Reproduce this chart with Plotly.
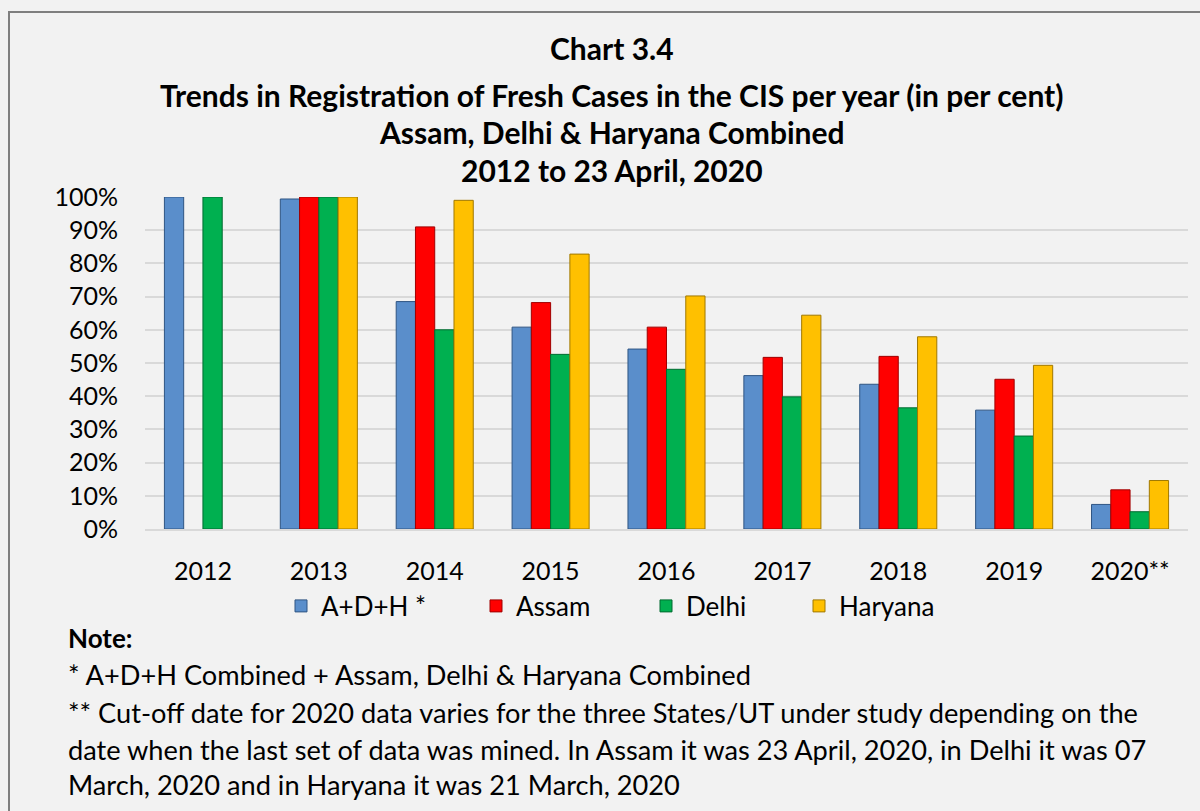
import plotly.graph_objects as go

years = ["2012", "2013", "2014", "2015", "2016", "2017", "2018", "2019", "2020**"]
adh = [100, 99.4, 68.5, 60.8, 54.2, 46.2, 43.6, 35.8, 7.4]
assam = [None, 100, 91.0, 68.2, 60.8, 51.7, 52.0, 45.1, 11.8]
delhi = [100, 100, 60.0, 52.6, 48.1, 39.8, 36.5, 28.0, 5.2]
haryana = [None, 100, 99.0, 82.8, 70.2, 64.4, 57.9, 49.3, 14.6]

series_names = ["A+D+H *", "Assam", "Delhi", "Haryana"]
series_vals = [adh, assam, delhi, haryana]
colors = ["#5A8ECB", "#FF0000", "#00B050", "#FFC000"]
edge = ["#2F5583", "#A00000", "#006B30", "#A07800"]

y_ticks = [0, 10, 20, 30, 40, 50, 60, 70, 80, 90, 100]
y_tick_labels = ["0%", "10%", "20%", "30%", "40%", "50%", "60%", "70%", "80%", "90%", "100%"]

title_lines = [
    "Chart 3.4",
    "Trends in Registration of Fresh Cases in the CIS per year (in per cent)",
    "Assam, Delhi & Haryana Combined",
    "2012 to 23 April, 2020",
]
note_lines = [
    "* A+D+H Combined + Assam, Delhi & Haryana Combined",
    "** Cut-off date for 2020 data varies for the three States/UT under study depending on the",
    "date when the last set of data was mined. In Assam it was 23 April, 2020, in Delhi it was 07",
    "March, 2020 and in Haryana it was 21 March, 2020",
]

W, H = 1200, 811
L, R, T, B = 145, 12, 197, 282
pw, ph = W - L - R, H - T - B


def px(x):
    return (x - L) / pw


def py(y):
    return (H - B - y) / ph


FONT = "Lato"
BG = "#F2F2F2"
legend_ids = ["legend", "legend2", "legend3", "legend4"]
legend_text_x = [323, 518, 688, 841]

fig = go.Figure()
for name, vals, c, e, lid in zip(series_names, series_vals, colors, edge, legend_ids):
    fig.add_trace(go.Bar(
        x=years, y=vals, name=name, legend=lid,
        marker=dict(color=c, line=dict(color=e, width=1)),
    ))

annotations = []
title_y = [48, 95, 132, 170]
for txt, yy in zip(title_lines, title_y):
    annotations.append(dict(
        text=f"<b>{txt}</b>", xref="paper", yref="paper",
        x=px(612), y=py(yy), xanchor="center", yanchor="middle",
        showarrow=False, font=dict(family=FONT, size=30, color="black"),
    ))
annotations.append(dict(
    text="<b>Note:</b>", xref="paper", yref="paper",
    x=px(66), y=py(638), xanchor="left", yanchor="middle",
    showarrow=False, font=dict(family=FONT, size=26, color="black"),
))
note_y = [674, 712, 749, 784]
for txt, yy in zip(note_lines, note_y):
    annotations.append(dict(
        text=txt, xref="paper", yref="paper",
        x=px(66), y=py(yy), xanchor="left", yanchor="middle",
        showarrow=False, font=dict(family=FONT, size=27.2, color="black"),
    ))

layout_legends = {}
for lid, tx in zip(legend_ids, legend_text_x):
    layout_legends[lid] = dict(
        orientation="h", x=px(tx - 42), y=py(606), xanchor="left", yanchor="middle",
        font=dict(family=FONT, size=26), bgcolor="rgba(0,0,0,0)",
    )

fig.update_layout(
    width=W, height=H,
    margin=dict(l=L, r=R, t=T, b=B, pad=0),
    paper_bgcolor=BG, plot_bgcolor=BG,
    barmode="group", bargap=0.335, bargroupgap=0,
    font=dict(family=FONT, size=25, color="black"),
    showlegend=True,
    annotations=annotations,
    shapes=[dict(
        type="rect", xref="paper", yref="paper",
        x0=px(9), x1=px(1210), y0=py(12), y1=py(820),
        line=dict(color="#7F7F7F", width=2), fillcolor="rgba(0,0,0,0)", layer="below",
    )],
    **layout_legends,
)
fig.update_yaxes(
    range=[0, 100], tickvals=y_ticks, ticktext=y_tick_labels,
    showgrid=True, gridcolor="#D9D9D9", gridwidth=1.5,
    zeroline=False, showline=False, ticklabelstandoff=26,
    tickfont=dict(family=FONT, size=25),
)
fig.update_xaxes(
    showgrid=False, showline=True, linecolor="#D9D9D9", linewidth=1.5,
    ticklabelstandoff=19, tickfont=dict(family=FONT, size=25),
)

fig.write_html(
    "out.html",
    config={"displayModeBar": False},
    post_script="document.body.style.margin='0px';",
)
